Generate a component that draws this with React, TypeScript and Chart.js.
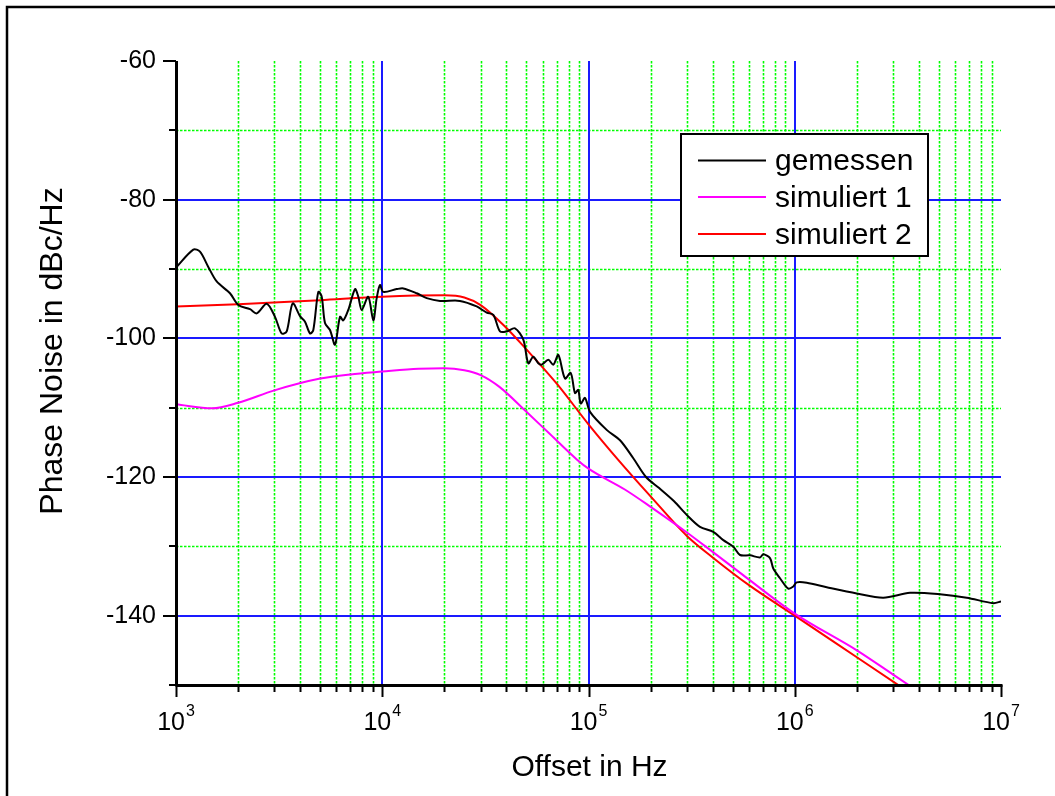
import React, { useEffect, useRef } from "react";
import { Chart, registerables } from "chart.js";

Chart.register(...registerables);

// ---------- data ----------
const gemessenHz = [
  1000, 1213, 1307, 1434, 1575, 1827, 2005, 2285, 2462, 2753, 3020, 3254, 3441, 3680, 3993,
  4222, 4464, 4632, 4898, 5087, 5277, 5580, 5901, 6240, 6474, 6845, 7378, 7654, 7951, 8557,
  9049, 9399, 9752, 10118, 11753, 12653, 14690, 16427, 19055, 23823, 28703, 32100, 34550,
  37240, 40120, 44010, 48300, 51070, 54000, 57100, 59300, 63850, 67500, 71400, 76900, 82000,
  86000, 89200, 91700, 96200, 101700, 122500, 142200, 164900, 190000, 220000, 260000, 300000,
  347200, 402700, 450400, 503600, 542700, 606700, 678500, 704000, 758600, 787000, 848300,
  930500, 984000, 1022000, 1143000, 1429000, 1997000, 2687000, 3622000, 5060000, 6820000,
  9180000, 10000000,
];
const gemessenDb = [
  -89.8, -87.2, -87.5, -89.7, -91.8, -93.5, -95.2, -95.8, -96.4, -95.0, -96.9, -99.3, -99.0,
  -94.95, -96.8, -97.6, -99.3, -98.8, -93.3, -94.0, -97.8, -98.8, -100.9, -96.9, -97.4, -95.9,
  -92.9, -94.0, -95.9, -94.0, -97.4, -94.2, -92.3, -93.3, -92.9, -92.8, -93.5, -94.2, -94.6,
  -94.6, -95.4, -96.3, -96.6, -99.0, -99.0, -98.55, -100.2, -103.6, -102.65, -103.6, -103.8,
  -103.1, -103.8, -102.4, -105.8, -105.0, -107.9, -107.45, -109.4, -108.6, -110.6, -113.2,
  -114.7, -117.3, -120.0, -121.6, -123.5, -125.5, -127.2, -127.9, -129.1, -130.05, -131.25,
  -131.3, -131.6, -131.15, -131.7, -133.2, -134.6, -136.1, -135.8, -135.2, -135.25, -135.9,
  -136.8, -137.4, -136.7, -136.9, -137.4, -138.2, -137.95,
];

const sim1Hz = [
  1000, 1500, 2000, 3000, 5000, 7000, 10000, 15000, 20000, 25000, 30000, 37000, 50000, 65000,
  88000, 100000, 150000, 200000, 300000, 400000, 600000, 1000000, 2000000, 3000000, 4000000,
];
const sim1Db = [
  -109.5, -110.1, -109.3, -107.5, -105.8, -105.2, -104.8, -104.4, -104.3, -104.6, -105.3,
  -107.0, -110.6, -113.8, -117.5, -118.8, -121.8, -124.3, -128.0, -130.8, -134.8, -139.7,
  -145.0, -148.5, -151.0,
];

const sim2Hz = [
  1000, 2000, 5000, 10000, 20000, 25000, 30000, 40000, 50000, 70000, 100000, 140000, 200000,
  300000, 400000, 600000, 1000000, 2000000, 4000000,
];
const sim2Db = [
  -95.4, -95.1, -94.5, -94.0, -93.8, -94.1, -95.2, -98.5, -101.6, -106.5, -112.4, -117.6,
  -122.8, -128.5, -131.6, -135.6, -140.0, -146.0, -152.0,
];

const seriesLabels = ["gemessen", "simuliert 1", "simuliert 2"];
const seriesColors = ["#000000", "#ff00ff", "#ff0000"];

const xMin = 1e3;
const xMax = 1e7;
const yMin = -150;
const yMax = -60;
const xDecades = [1e3, 1e4, 1e5, 1e6, 1e7];
const xExponents = ["3", "4", "5", "6", "7"];
const xMinorFactors = [2, 3, 4, 5, 6, 7, 8, 9];
const yMajorTicks = [-60, -80, -100, -120, -140];
const yMinorTicks = [-70, -90, -110, -130, -150];
const yGridMajor = [-80, -100, -120, -140];
const yGridMinor = [-70, -90, -110, -130];

const xTitle = "Offset in Hz";
const yTitle = "Phase Noise in dBc/Hz";

const FONT = '"Liberation Sans", Arial, Helvetica, sans-serif';

const toPoints = (xs: number[], ys: number[]) => xs.map((v, i) => ({ x: v, y: ys[i] }));

const decorPlugin = {
  id: "decor",
  beforeDraw(chart: any) {
    const { ctx, chartArea: a, scales } = chart;
    const x = scales.x;
    const y = scales.y;
    ctx.save();
    ctx.fillStyle = "#ffffff";
    ctx.fillRect(0, 0, chart.width, chart.height);

    // green dotted minor grid
    ctx.strokeStyle = "#00ff00";
    ctx.lineWidth = 1.6;
    ctx.setLineDash([2.5, 1.5]);
    for (let d = 0; d < xDecades.length - 1; d++) {
      for (const m of xMinorFactors) {
        const px = Math.round(x.getPixelForValue(xDecades[d] * m)) + 0.5;
        ctx.beginPath();
        ctx.moveTo(px, a.top);
        ctx.lineTo(px, a.bottom);
        ctx.stroke();
      }
    }
    for (const v of yGridMinor) {
      const py = Math.round(y.getPixelForValue(v)) + 0.5;
      ctx.beginPath();
      ctx.moveTo(a.left, py);
      ctx.lineTo(a.right, py);
      ctx.stroke();
    }
    // blue major grid
    ctx.setLineDash([]);
    ctx.strokeStyle = "#1a1aff";
    ctx.lineWidth = 2;
    for (let d = 1; d < xDecades.length - 1; d++) {
      const px = Math.round(x.getPixelForValue(xDecades[d]));
      ctx.beginPath();
      ctx.moveTo(px, a.top);
      ctx.lineTo(px, a.bottom);
      ctx.stroke();
    }
    for (const v of yGridMajor) {
      const py = Math.round(y.getPixelForValue(v));
      ctx.beginPath();
      ctx.moveTo(a.left, py);
      ctx.lineTo(a.right, py);
      ctx.stroke();
    }
    ctx.restore();
  },
  afterDatasetsDraw(chart: any) {
    const { ctx, chartArea: a, scales } = chart;
    const x = scales.x;
    const y = scales.y;
    ctx.save();
    ctx.setLineDash([]);
    ctx.strokeStyle = "#000";
    ctx.fillStyle = "#000";

    // axes lines
    ctx.lineWidth = 3;
    ctx.beginPath();
    ctx.moveTo(a.left + 0.5, a.top);
    ctx.lineTo(a.left + 0.5, a.bottom + 1.5);
    ctx.stroke();
    ctx.beginPath();
    ctx.moveTo(a.left, a.bottom + 0.5);
    ctx.lineTo(a.right + 1.5, a.bottom + 0.5);
    ctx.stroke();

    // y ticks
    ctx.lineWidth = 2;
    for (const v of yMajorTicks) {
      const py = Math.round(y.getPixelForValue(v));
      ctx.beginPath();
      ctx.moveTo(a.left - 13, py);
      ctx.lineTo(a.left, py);
      ctx.stroke();
    }
    for (const v of yMinorTicks) {
      const py = Math.round(y.getPixelForValue(v));
      ctx.beginPath();
      ctx.moveTo(a.left - 7, py);
      ctx.lineTo(a.left, py);
      ctx.stroke();
    }
    // x ticks
    for (const d of xDecades) {
      const px = Math.round(x.getPixelForValue(d)) + 0.5;
      ctx.beginPath();
      ctx.moveTo(px, a.bottom);
      ctx.lineTo(px, a.bottom + 12);
      ctx.stroke();
    }
    for (let d = 0; d < xDecades.length - 1; d++) {
      for (const m of xMinorFactors) {
        const px = Math.round(x.getPixelForValue(xDecades[d] * m)) + 0.5;
        ctx.beginPath();
        ctx.moveTo(px, a.bottom);
        ctx.lineTo(px, a.bottom + 7);
        ctx.stroke();
      }
    }

    // y tick labels
    ctx.font = `25px ${FONT}`;
    ctx.textAlign = "right";
    ctx.textBaseline = "alphabetic";
    for (const v of yMajorTicks) {
      const py = y.getPixelForValue(v);
      ctx.fillText(String(v), a.left - 20, py + 7);
    }

    // x tick labels with superscript exponent
    xDecades.forEach((d, i) => {
      const px = x.getPixelForValue(d);
      ctx.font = `25px ${FONT}`;
      const wBase = ctx.measureText("10").width;
      ctx.font = `16px ${FONT}`;
      const wExp = ctx.measureText(xExponents[i]).width;
      const start = px - (wBase + wExp + 1) / 2;
      ctx.textAlign = "left";
      ctx.font = `25px ${FONT}`;
      ctx.fillText("10", start, a.bottom + 45);
      ctx.font = `16px ${FONT}`;
      ctx.fillText(xExponents[i], start + wBase + 1, a.bottom + 31);
    });

    // axis titles
    ctx.font = `30px ${FONT}`;
    ctx.textAlign = "center";
    ctx.fillText(xTitle, (a.left + a.right) / 2 + 1, a.bottom + 91);
    ctx.save();
    ctx.translate(62, 351);
    ctx.rotate(-Math.PI / 2);
    ctx.font = `32px ${FONT}`;
    ctx.fillText(yTitle, 0, 0);
    ctx.restore();

    // legend
    const lx = 681, ly = 134, lw = 247, lh = 122;
    ctx.fillStyle = "#fff";
    ctx.fillRect(lx, ly, lw, lh);
    ctx.strokeStyle = "#000";
    ctx.lineWidth = 2;
    ctx.strokeRect(lx, ly, lw, lh);
    const rowLine = [160.5, 197, 234];
    const rowBase = [170, 207, 244];
    chart.data.datasets.forEach((ds: any, i: number) => {
      ctx.strokeStyle = ds.borderColor;
      ctx.lineWidth = 2;
      ctx.beginPath();
      ctx.moveTo(698, rowLine[i]);
      ctx.lineTo(766, rowLine[i]);
      ctx.stroke();
      ctx.fillStyle = "#000";
      ctx.font = `30px ${FONT}`;
      ctx.textAlign = "left";
      ctx.fillText(ds.label, 775, rowBase[i]);
    });

    // outer frame
    ctx.strokeStyle = "#000";
    ctx.lineWidth = 2.5;
    ctx.strokeRect(7, 7, chart.width + 20, chart.height + 20);
    ctx.restore();
  },
};

export default function App() {
  const canvasRef = useRef<HTMLCanvasElement | null>(null);

  useEffect(() => {
    document.body.style.margin = "0";
    const canvas = canvasRef.current;
    if (!canvas) return;
    const chart = new Chart(canvas, {
      type: "line",
      data: {
        datasets: [
          {
            label: seriesLabels[0],
            data: toPoints(gemessenHz, gemessenDb),
            borderColor: seriesColors[0],
            borderWidth: 2,
            pointRadius: 0,
            tension: 0.3,
            fill: false,
          },
          {
            label: seriesLabels[1],
            data: toPoints(sim1Hz, sim1Db),
            borderColor: seriesColors[1],
            borderWidth: 2,
            pointRadius: 0,
            cubicInterpolationMode: "monotone",
            fill: false,
          },
          {
            label: seriesLabels[2],
            data: toPoints(sim2Hz, sim2Db),
            borderColor: seriesColors[2],
            borderWidth: 2,
            pointRadius: 0,
            cubicInterpolationMode: "monotone",
            fill: false,
          },
        ],
      },
      options: {
        responsive: false,
        maintainAspectRatio: false,
        animation: false,
        devicePixelRatio: 1,
        layout: { padding: { left: 176, right: 54, top: 61, bottom: 111 } },
        plugins: {
          legend: { display: false },
          tooltip: { enabled: false },
          title: { display: false },
        },
        scales: {
          x: { type: "logarithmic", min: xMin, max: xMax, display: false },
          y: { type: "linear", min: yMin, max: yMax, display: false },
        },
      },
      plugins: [decorPlugin],
    } as any);
    return () => chart.destroy();
  }, []);

  return (
    <div style={{ position: "fixed", left: 0, top: 0, width: 1055, height: 796 }}>
      <canvas ref={canvasRef} width={1055} height={796} style={{ width: 1055, height: 796 }} />
    </div>
  );
}
